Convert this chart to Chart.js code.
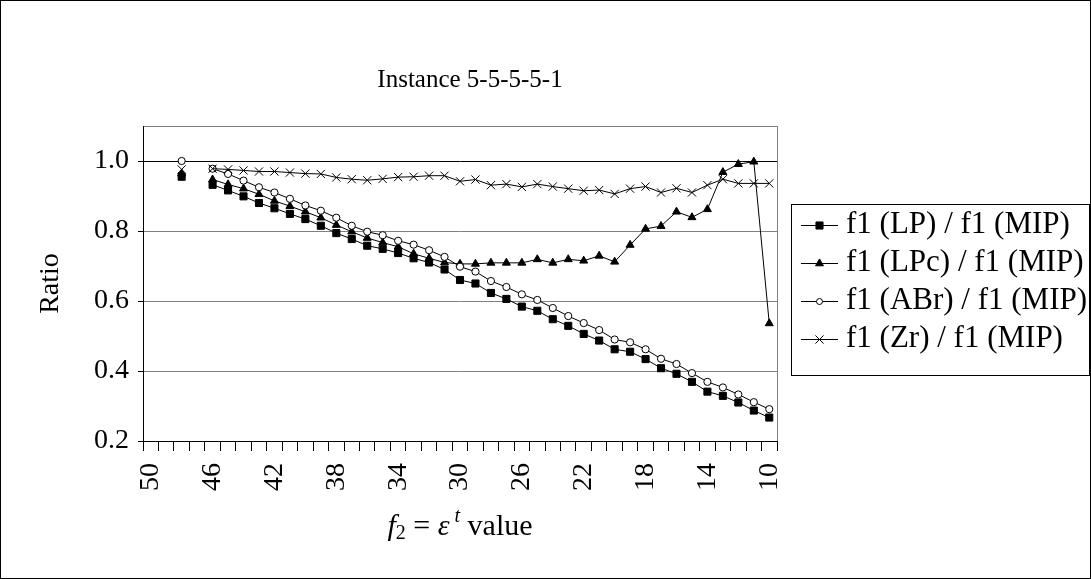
<!DOCTYPE html>
<html>
<head>
<meta charset="utf-8">
<title>Instance 5-5-5-5-1</title>
<script src="https://cdn.jsdelivr.net/npm/chart.js@4.4.1/dist/chart.umd.min.js"></script>
<style>
  html, body { margin: 0; padding: 0; background: #fff; }
  canvas { display: block; }
</style>
</head>
<body>
<canvas id="chart" width="1091" height="579"></canvas>
<script>
const FONT = '"Liberation Serif", "Times New Roman", serif';

// f2 = eps^t, from 50 down to 10
const xLabels = ['50','49','48','47','46','45','44','43','42','41','40','39','38','37','36','35','34','33','32','31',
                 '30','29','28','27','26','25','24','23','22','21','20','19','18','17','16','15','14','13','12','11','10'];
const shownLabels = ['50','46','42','38','34','30','26','22','18','14','10'];
const yTicks = [0.2, 0.4, 0.6, 0.8, 1.0];

// ratios, null where no value was plotted
const lpRatio = [null, null, 0.955, null,
  0.932, 0.916, 0.899, 0.880, 0.865, 0.849, 0.834, 0.815, 0.794, 0.777, 0.758, 0.749, 0.737, 0.722, 0.710, 0.690,
  0.660, 0.650, 0.623, 0.606, 0.584, 0.572, 0.548, 0.529, 0.506, 0.487, 0.462, 0.455, 0.434, 0.408, 0.392, 0.369,
  0.341, 0.329, 0.310, 0.287, 0.267];
const lpcRatio = [null, null, 0.964, null,
  0.947, 0.933, 0.921, 0.905, 0.886, 0.871, 0.855, 0.838, 0.817, 0.798, 0.780, 0.767, 0.755, 0.735, 0.722, 0.710,
  0.706, 0.706, 0.709, 0.709, 0.709, 0.719, 0.709, 0.719, 0.715, 0.729, 0.712, 0.760, 0.806, 0.814, 0.855, 0.839,
  0.862, 0.968, 0.991, 0.998, 0.536];
const abrRatio = [null, null, 1.000, null,
  0.978, 0.963, 0.944, 0.925, 0.910, 0.892, 0.873, 0.858, 0.838, 0.815, 0.798, 0.788, 0.772, 0.761, 0.745, 0.726,
  0.698, 0.684, 0.657, 0.640, 0.619, 0.603, 0.580, 0.557, 0.537, 0.517, 0.490, 0.482, 0.462, 0.435, 0.420, 0.394,
  0.369, 0.353, 0.333, 0.311, 0.291];
const zrRatio = [null, null, 0.976, null,
  0.978, 0.976, 0.973, 0.970, 0.970, 0.967, 0.964, 0.963, 0.953, 0.948, 0.945, 0.949, 0.954, 0.955, 0.958, 0.958,
  0.942, 0.947, 0.931, 0.934, 0.926, 0.934, 0.927, 0.921, 0.915, 0.917, 0.906, 0.921, 0.927, 0.910, 0.922, 0.910,
  0.931, 0.948, 0.936, 0.936, 0.936];

const seriesNames = ['f1 (LP) / f1 (MIP)', 'f1 (LPc) / f1 (MIP)', 'f1 (ABr) / f1 (MIP)', 'f1 (Zr) / f1 (MIP)'];

function makeSeries(label, data, style, radius, fill, order) {
    return {
        label: label,
        data: data,
        borderColor: '#000',
        borderWidth: 1,
        pointStyle: style,
        pointRadius: radius,
        pointHoverRadius: radius,
        pointBackgroundColor: fill,
        pointBorderColor: '#000',
        pointBorderWidth: 1,
        spanGaps: false,
        tension: 0,
        fill: false,
        order: order
    };
}

// frame, titles and the boxed legend (Excel look)
const decor = {
    id: 'decor',
    beforeDraw(chart) {
        const { ctx, chartArea: a } = chart;
        ctx.save();
        ctx.fillStyle = '#fff';
        ctx.fillRect(0, 0, chart.width, chart.height);
        ctx.strokeStyle = '#000';
        ctx.lineWidth = 1;
        ctx.strokeRect(0.5, 0.5, chart.width - 1, chart.height - 1);
        ctx.strokeStyle = '#808080';
        ctx.strokeRect(Math.round(a.left) + 0.5, Math.round(a.top) + 0.5,
            Math.round(a.right - a.left), Math.round(a.bottom - a.top));
        ctx.restore();
    },
    afterDraw(chart) {
        const { ctx } = chart;
        ctx.save();
        ctx.fillStyle = '#000';
        ctx.textBaseline = 'middle';

        // chart title
        ctx.font = '25px ' + FONT;
        ctx.textAlign = 'center';
        ctx.fillText('Instance 5-5-5-5-1', 470, 80);

        // x axis title: f2 = eps^t value
        const parts = [
            { t: 'f', font: 'italic 30px ' + FONT, dy: 0 },
            { t: '2', font: '20px ' + FONT, dy: 7 },
            { t: ' = ', font: '30px ' + FONT, dy: 0 },
            { t: 'ε', font: 'italic 30px ' + FONT, dy: 0 },
            { t: ' t', font: 'italic 20px ' + FONT, dy: -10 },
            { t: ' value', font: '30px ' + FONT, dy: 0 }
        ];
        ctx.textAlign = 'left';
        let total = 0;
        parts.forEach(p => { ctx.font = p.font; p.w = ctx.measureText(p.t).width; total += p.w; });
        let x = 460 - total / 2;
        parts.forEach(p => { ctx.font = p.font; ctx.fillText(p.t, x, 527 + p.dy); x += p.w; });

        // legend
        const box = { x: 791.5, y: 204.5, w: 298, h: 171 };
        ctx.strokeStyle = '#000';
        ctx.lineWidth = 1;
        ctx.strokeRect(box.x, box.y, box.w, box.h);
        ctx.font = '31px ' + FONT;
        chart.data.datasets.forEach((ds, i) => {
            const y = 225 + i * 38;
            ctx.beginPath();
            ctx.moveTo(801, y + 0.5);
            ctx.lineTo(838, y + 0.5);
            ctx.stroke();
            ctx.fillStyle = ds.pointBackgroundColor;
            Chart.helpers.drawPoint(ctx, {
                pointStyle: ds.pointStyle,
                radius: ds.pointStyle === 'circle' ? 3 : ds.pointRadius,
                rotation: 0,
                borderWidth: 1
            }, 819.5, y + 0.5);
            ctx.fillStyle = '#000';
            ctx.fillText(ds.label, 846, y);
        });
        ctx.restore();
    }
};

new Chart(document.getElementById('chart'), {
    type: 'line',
    data: {
        labels: xLabels,
        datasets: [
            makeSeries(seriesNames[0], lpRatio, 'rect', 5, '#000', 3),
            makeSeries(seriesNames[1], lpcRatio, 'triangle', 4.6, '#000', 2),
            makeSeries(seriesNames[2], abrRatio, 'circle', 3.6, '#fff', 1),
            makeSeries(seriesNames[3], zrRatio, 'crossRot', 5.8, '#000', 0)
        ]
    },
    options: {
        responsive: false,
        animation: false,
        layout: { padding: { left: 0, right: 314, top: 126, bottom: 0 } },
        plugins: {
            legend: { display: false },
            title: { display: false },
            tooltip: { enabled: false }
        },
        scales: {
            x: {
                type: 'category',
                offset: true,
                afterFit: (scale) => { scale.height = 138; },
                border: { color: '#000', width: 1 },
                grid: {
                    offset: true,
                    drawOnChartArea: false,
                    drawTicks: true,
                    tickLength: 10,
                    color: '#000'
                },
                ticks: {
                    autoSkip: false,
                    minRotation: 90,
                    maxRotation: 90,
                    padding: 12,
                    color: '#000',
                    font: { family: FONT, size: 28 },
                    callback: function (value) {
                        const label = this.getLabelForValue(value);
                        return shownLabels.includes(label) ? label : '';
                    }
                }
            },
            y: {
                min: 0.2,
                max: 1.1,
                afterFit: (scale) => { scale.width = 143; },
                afterBuildTicks: (scale) => { scale.ticks = yTicks.map(v => ({ value: v })); },
                border: { color: '#000', width: 1 },
                grid: {
                    color: (ctx) => (ctx.tick && ctx.tick.value === 1.0 ? '#000' : '#808080'),
                    tickColor: '#000',
                    drawTicks: true,
                    tickLength: 5
                },
                ticks: {
                    padding: 9,
                    color: '#000',
                    font: { family: FONT, size: 28 },
                    callback: (v) => Number(v).toFixed(1)
                },
                title: {
                    display: true,
                    text: 'Ratio',
                    color: '#000',
                    font: { family: FONT, size: 28 },
                    padding: { top: 34, bottom: 0 }
                }
            }
        }
    },
    plugins: [decor]
});
</script>
</body>
</html>
